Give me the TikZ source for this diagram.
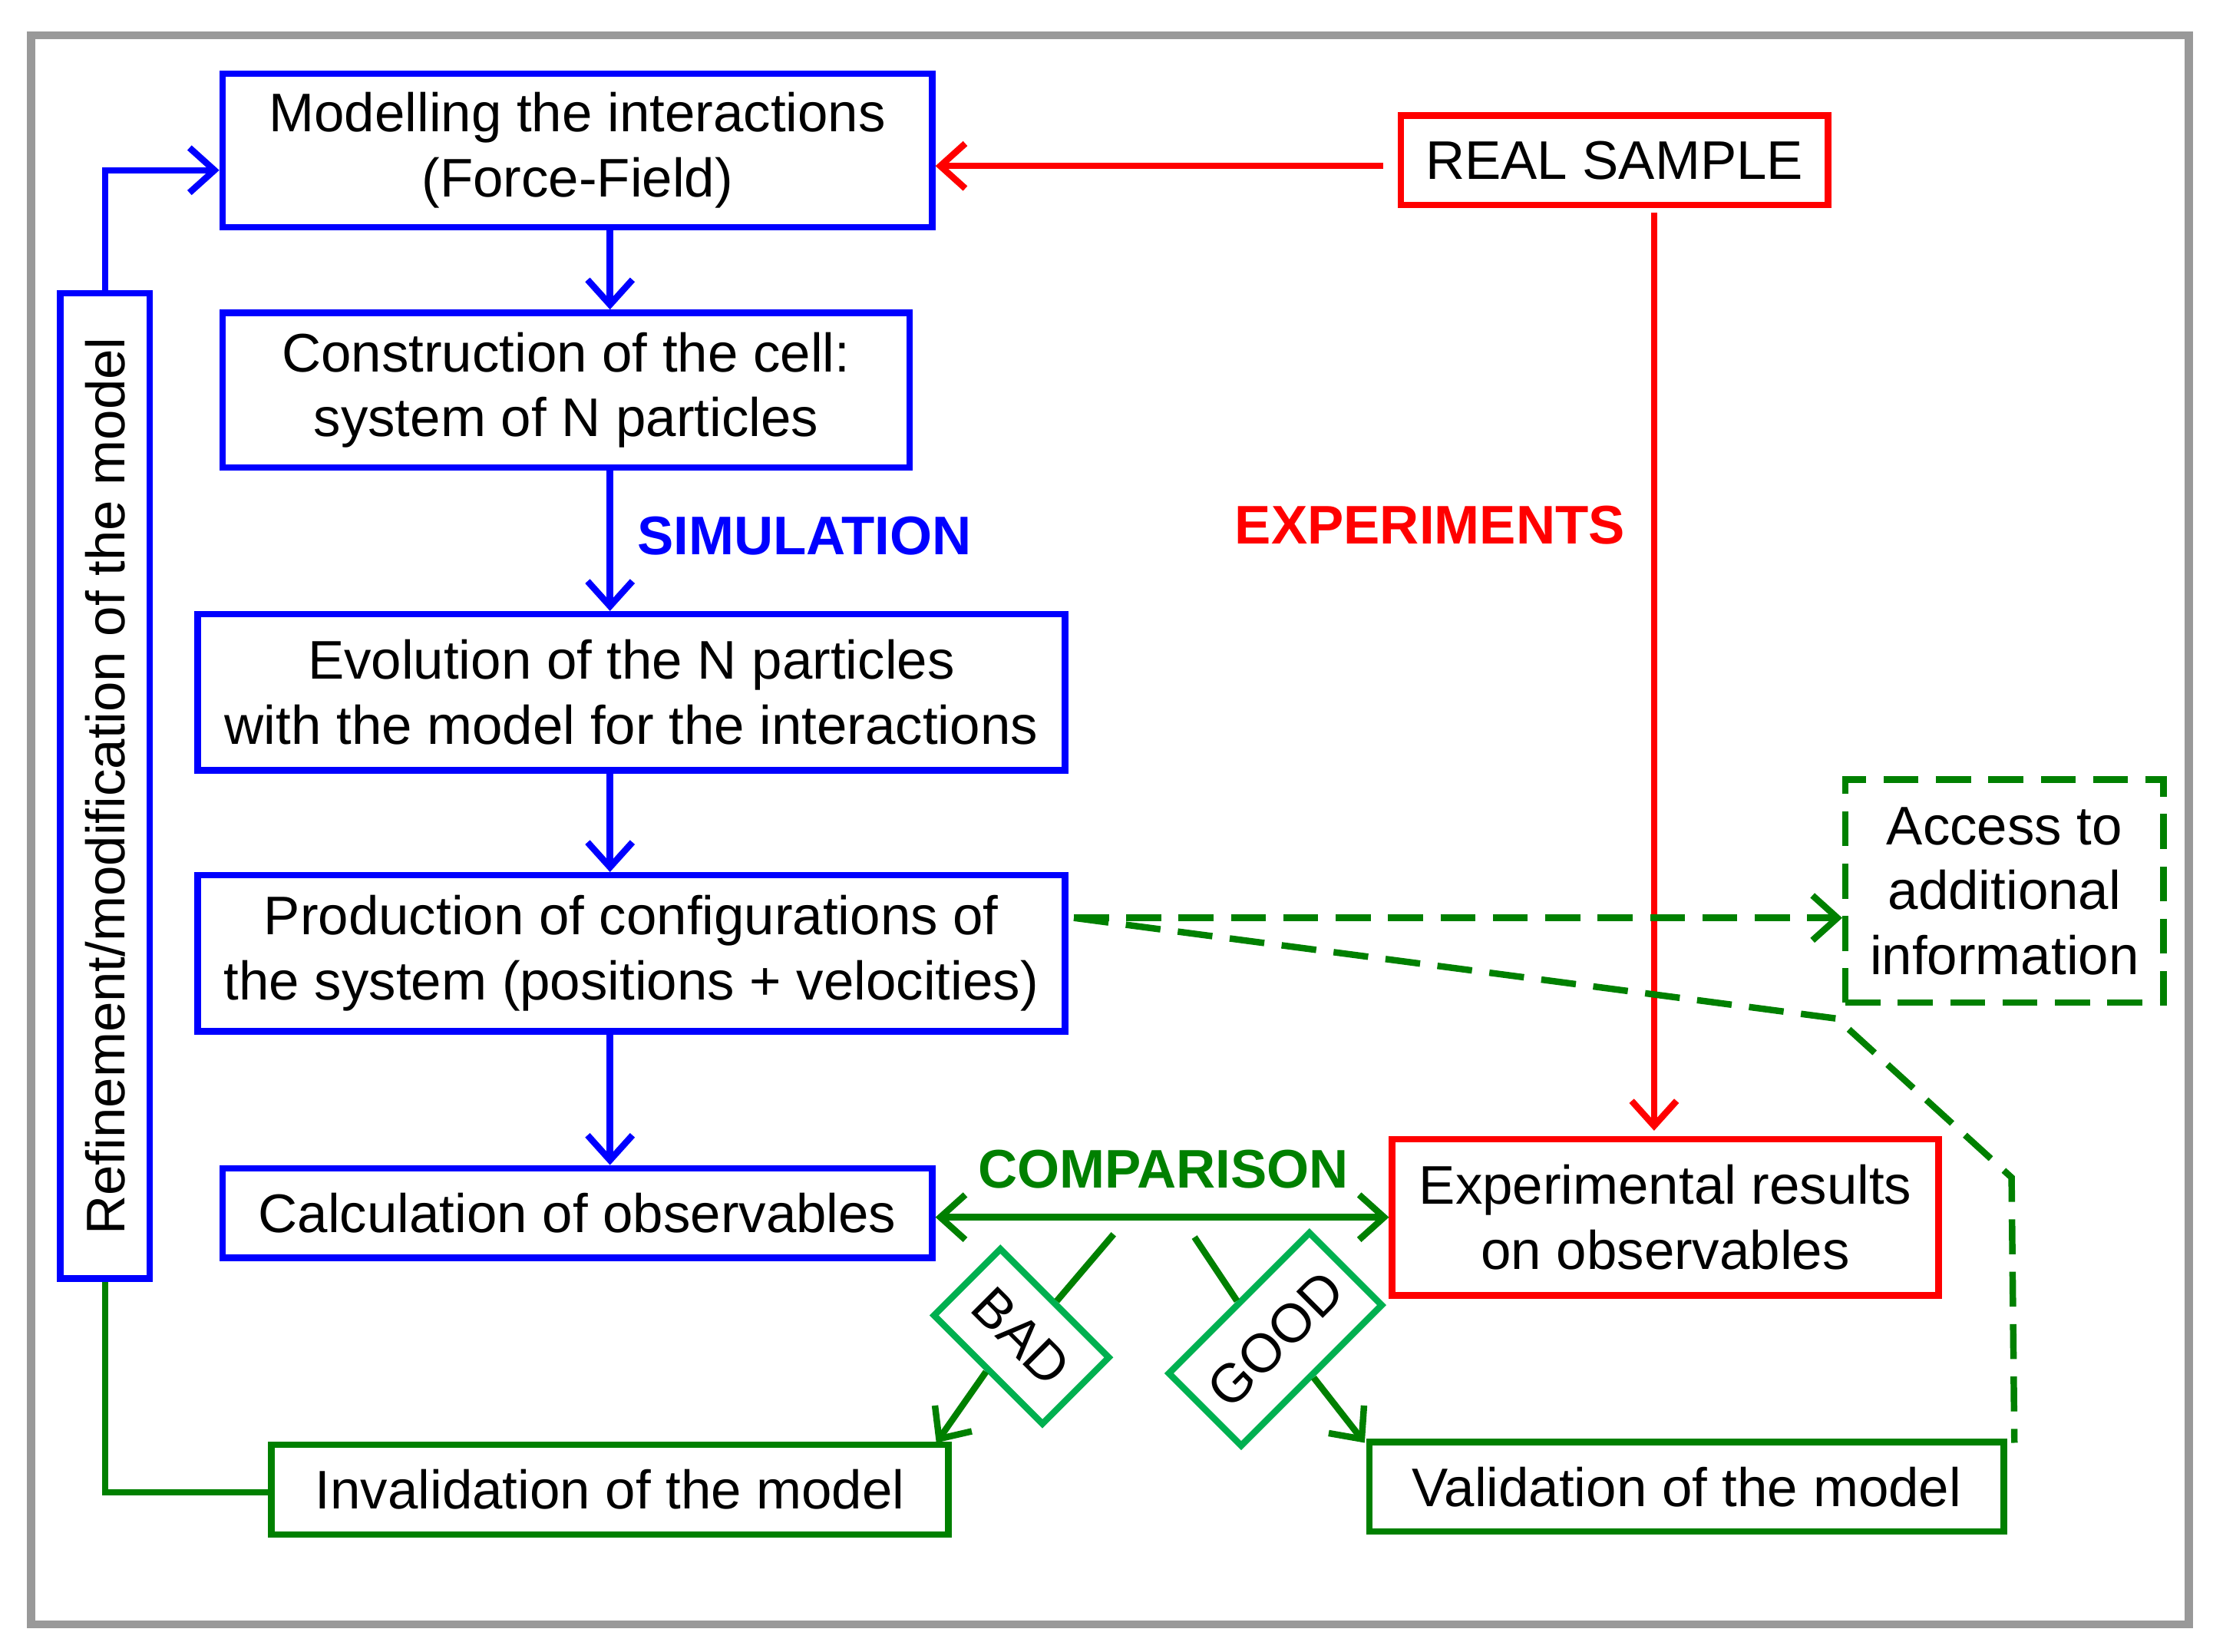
\documentclass[tikz,border=0pt]{standalone}
\usepackage{fontspec}
\setmainfont{Liberation Sans}
\usetikzlibrary{arrows.meta}
\definecolor{dgreen}{RGB}{0,128,0}
\definecolor{lgreen}{RGB}{0,176,80}
\begin{document}
\begin{tikzpicture}[x=0.01cm,y=-0.01cm,
  every node/.style={font=\fontsize{10.9}{13}\selectfont,align=center,inner sep=0pt},
  bx/.style={draw=blue,line width=1.3pt},
  rb/.style={draw=red,line width=1.3pt},
  gb/.style={draw=dgreen,line width=1.3pt},
  dsh/.style={dash pattern=on 7pt off 3.5pt},
  arr/.style={line width=1.3pt,-{Straight Barb[length=5pt,width=9pt]}},
  lab/.style={font=\fontsize{10.9}{13}\selectfont\bfseries}]
\useasboundingbox (0,0) rectangle (1560,1164);
\draw[gray!80,line width=1.6pt] (22,25) rectangle (1543,1145);
\node[bx,minimum width=5cm,minimum height=1.08cm] (A) at (407,106) {Modelling the interactions\\(Force-Field)};
\node[bx,minimum width=4.84cm,minimum height=1.09cm] (B) at (399,275) {Construction of the cell:\\system of N particles};
\node[bx,minimum width=6.11cm,minimum height=1.1cm] (C) at (445,488) {Evolution of the N particles\\with the model for the interactions};
\node[bx,minimum width=6.11cm,minimum height=1.1cm] (D) at (445,672) {Production of configurations of\\the system (positions + velocities)};
\node[bx,minimum width=5cm,minimum height=0.63cm] (E) at (407,855) {Calculation of observables};
\node[bx,minimum width=6.94cm,minimum height=0.63cm,rotate=90] (R) at (74,554) {Refinement/modification of the model};
\node[rb,minimum width=3.01cm,minimum height=0.63cm] (S) at (1138,113) {REAL SAMPLE};
\node[rb,minimum width=3.85cm,minimum height=1.1cm] (X) at (1174,858) {Experimental results\\on observables};
\node[draw=dgreen,line width=1.3pt,dsh,minimum width=2.24cm,minimum height=1.57cm] (Acc) at (1413,628) {Access to\\additional\\information};
\node[gb,minimum width=4.77cm,minimum height=0.63cm] (I) at (430,1050) {Invalidation of the model};
\node[gb,minimum width=4.47cm,minimum height=0.63cm] (V) at (1189,1048) {Validation of the model};
\node[draw=lgreen,line width=1.3pt,fill=white,minimum width=1.08cm,minimum height=0.66cm,rotate=-45] (bad) at (720,942) {BAD};
\node[draw=lgreen,line width=1.3pt,fill=white,minimum width=1.4cm,minimum height=0.72cm,rotate=45] (good) at (899,944) {GOOD};
\node[lab,text=blue] at (567,378) {SIMULATION};
\node[lab,text=red] at (1008,370) {EXPERIMENTS};
\node[lab,text=dgreen] at (820,824) {COMPARISON};
\draw[arr,blue] (A.south -| 430,0) -- (B.north -| 430,0);
\draw[arr,blue] (B.south -| 430,0) -- (C.north -| 430,0);
\draw[arr,blue] (C.south -| 430,0) -- (D.north -| 430,0);
\draw[arr,blue] (D.south -| 430,0) -- (E.north -| 430,0);
\draw[arr,blue] (R.east) -- (74,120) -- (A.west |- 0,120);
\draw[gb,line width=1.3pt] (R.west) -- (74,1052) -- (I.west |- 0,1052);
\coordinate (s1) at (975,117);
\draw[arr,red] (s1) -- (A.east |- s1);
\coordinate (s2) at (1166,150);
\draw[arr,red] (s2) -- (1166,797);
\draw[line width=1.3pt,dgreen,{Straight Barb[length=5pt,width=9pt]}-{Straight Barb[length=5pt,width=9pt]}] (E.east |- 0,858) -- (X.west |- 0,858);
\coordinate (d0) at (757,647);
\draw[arr,dgreen,dsh] (d0) -- (Acc.west |- d0);
\draw[dgreen,dsh,line width=1.3pt] (d0) -- (1295,718) -- (1418,830) -- (1420,1017);
\coordinate (b1) at (785,870);
\coordinate (g1) at (842,872);
\draw[dgreen,line width=1.3pt] (b1) -- (bad.north);
\draw[arr,dgreen] (bad.south) -- (660,1017);
\draw[dgreen,line width=1.3pt] (g1) -- (good.north);
\draw[arr,dgreen] (good.south) -- (962,1017);
\end{tikzpicture}
\end{document}
